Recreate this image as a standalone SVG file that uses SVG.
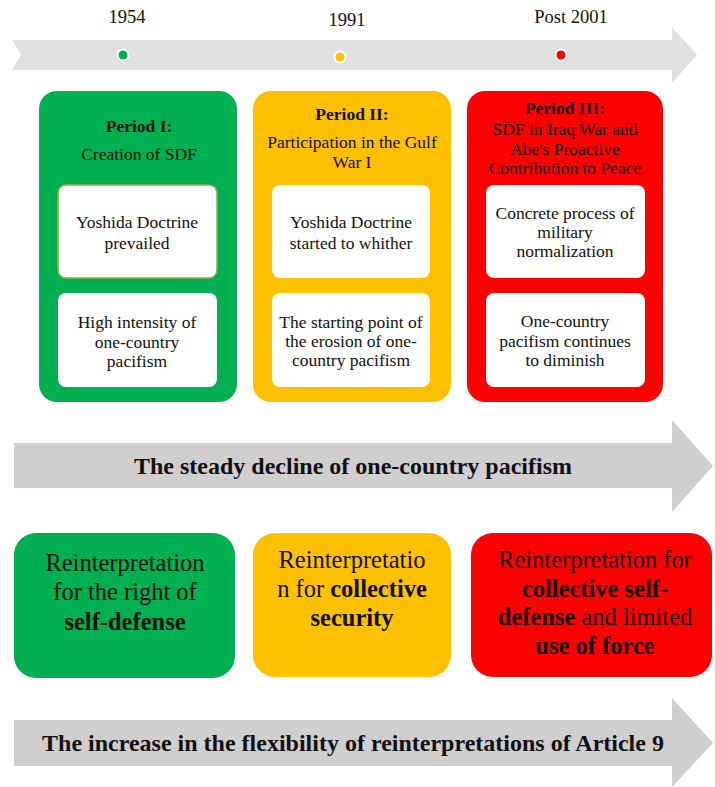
<svg xmlns="http://www.w3.org/2000/svg" width="715" height="787" viewBox="0 0 715 787">
<style>
text{font-family:"Liberation Serif","Times New Roman",serif;fill:#111;text-anchor:middle}
.yr{font-size:18.5px}
.t{font-size:17.5px}
.b{font-weight:bold}
.big{font-size:24.5px}
.ar{font-size:24px;font-weight:bold}
</style>
<rect width="715" height="787" fill="#fff"/>
<g id="timeline">
<polygon points="12,40 672,40 672,27 697,55 672,83 672,70 12,70 21,55" fill="#e0e0e0"/>
<text class="yr" x="127" y="23">1954</text>
<text class="yr" x="347" y="26">1991</text>
<text class="yr" x="571" y="23">Post 2001</text>
<circle cx="123" cy="55" r="6.5" fill="#fff"/><circle cx="123" cy="55" r="4.5" fill="#00b050"/>
<circle cx="340" cy="57" r="6.5" fill="#fff"/><circle cx="340" cy="57" r="4.5" fill="#ffc000"/>
<circle cx="561" cy="55" r="6.5" fill="#fff"/><circle cx="561" cy="55" r="4.5" fill="#ff0000"/>
</g>
<g id="period1">
<rect x="39" y="91" width="198" height="311" rx="18" fill="#00b050"/>
<text class="t b" x="139" y="132">Period I:</text>
<text class="t" x="139" y="160">Creation of SDF</text>
<rect x="58" y="185" width="159" height="93" rx="8" fill="#fff" stroke="#8ab04a" stroke-width="1.5"/>
<text class="t" x="137" y="228">Yoshida Doctrine</text>
<text class="t" x="137" y="249">prevailed</text>
<rect x="58" y="293" width="159" height="94" rx="8" fill="#fff"/>
<text class="t" x="137" y="328">High intensity of</text>
<text class="t" x="137" y="348">one-country</text>
<text class="t" x="137" y="367">pacifism</text>
</g>
<g id="period2">
<rect x="253" y="91" width="198" height="311" rx="18" fill="#ffc000"/>
<text class="t b" x="352" y="120">Period II:</text>
<text class="t" x="352" y="148">Participation in the Gulf</text>
<text class="t" x="352" y="168">War I</text>
<rect x="272" y="185" width="158" height="93" rx="8" fill="#fff"/>
<text class="t" x="351" y="228">Yoshida Doctrine</text>
<text class="t" x="351" y="249">started to whither</text>
<rect x="272" y="293" width="158" height="94" rx="8" fill="#fff"/>
<text class="t" x="351" y="328">The starting point of</text>
<text class="t" x="351" y="347">the erosion of one-</text>
<text class="t" x="351" y="366">country pacifism</text>
</g>
<g id="period3">
<rect x="467" y="91" width="196" height="311" rx="18" fill="#ff0000"/>
<text class="t b" x="565" y="114">Period III:</text>
<text class="t" x="565" y="135">SDF in Iraq War and</text>
<text class="t" x="565" y="155">Abe's Proactive</text>
<text class="t" x="565" y="174">Contribution to Peace</text>
<rect x="486" y="185" width="159" height="93" rx="8" fill="#fff"/>
<text class="t" x="565" y="219">Concrete process of</text>
<text class="t" x="565" y="238">military</text>
<text class="t" x="565" y="257">normalization</text>
<rect x="486" y="293" width="159" height="94" rx="8" fill="#fff"/>
<text class="t" x="565" y="327">One-country</text>
<text class="t" x="565" y="347">pacifism continues</text>
<text class="t" x="565" y="366">to diminish</text>
</g>
<g id="arrow-decline">
<polygon points="14,443 672,443 672,420 713,466 672,512 672,488 14,488" fill="#d0cece"/>
<text class="ar" x="353" y="474">The steady decline of one-country pacifism</text>
</g>
<g id="reint1">
<rect x="14" y="533" width="221" height="145" rx="22" fill="#00b050"/>
<text class="big" x="125" y="571">Reinterpretation</text>
<text class="big" x="125" y="600">for the right of</text>
<text class="big b" x="125" y="630">self-defense</text>
</g>
<g id="reint2">
<rect x="253" y="533" width="198" height="144" rx="22" fill="#ffc000"/>
<text class="big" x="352" y="568">Reinterpretatio</text>
<text class="big" x="352" y="597">n for <tspan class="b">collective</tspan></text>
<text class="big b" x="352" y="626">security</text>
</g>
<g id="reint3">
<rect x="471" y="533" width="241" height="144" rx="22" fill="#ff0000"/>
<text class="big" x="595" y="568">Reinterpretation for</text>
<text class="big b" x="595" y="597">collective self-</text>
<text class="big" x="595" y="625"><tspan class="b">defense</tspan> and limited</text>
<text class="big b" x="595" y="654">use of force</text>
</g>
<g id="arrow-flex">
<polygon points="14,720 672,720 672,698 713,743 672,787 672,766 14,766" fill="#d0cece"/>
<text class="ar" x="353" y="751">The increase in the flexibility of reinterpretations of Article 9</text>
</g>
<g id="connectors"/>
</svg>
